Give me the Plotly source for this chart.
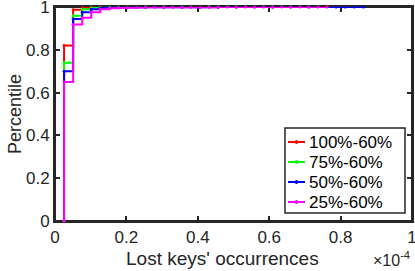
import plotly.graph_objects as go

# x values in units of 1e-4 (lost keys' occurrences)
red_x = [0.0254, 0.0254, 0.0508, 0.0762, 0.1016, 0.1270, 0.1524, 0.1778, 0.2032, 0.2540, 0.3048, 0.3810, 0.4572]
red_y = [0.0, 0.82, 0.987, 0.997, 0.999, 0.9993, 0.9995, 0.9996, 0.9997, 0.9998, 0.9999, 0.99995, 1.0]

green_x = [0.0254, 0.0254, 0.0508, 0.0762, 0.1016, 0.1270, 0.1524, 0.1778, 0.2032, 0.2540, 0.3048, 0.3556, 0.4318, 0.5080, 0.6096]
green_y = [0.0, 0.74, 0.959, 0.99, 0.996, 0.998, 0.9985, 0.999, 0.9993, 0.9995, 0.9997, 0.9998, 0.9999, 0.99995, 1.0]

blue_x = [0.0254, 0.0254, 0.0508, 0.0762, 0.1016, 0.1270, 0.1524, 0.1778, 0.2032, 0.2286, 0.2540, 0.3048, 0.3556, 0.4064, 0.4572, 0.5080, 0.5588, 0.6096, 0.6604, 0.7112, 0.7874, 0.8128, 0.8382, 0.8636]
blue_y = [0.0, 0.70, 0.944, 0.975, 0.99, 0.995, 0.997, 0.998, 0.9985, 0.9988, 0.999, 0.9992, 0.9993, 0.9994, 0.9995, 0.9996, 0.9997, 0.99975, 0.9998, 0.99985, 0.9999, 0.99993, 0.99996, 1.0]

magenta_x = [0.0254, 0.0254, 0.0508, 0.0762, 0.1016, 0.1270, 0.1524, 0.1778, 0.2032, 0.2286, 0.2540, 0.2794, 0.3048, 0.3302, 0.3556, 0.3810, 0.4064, 0.4318, 0.4572, 0.4826, 0.5080, 0.5334, 0.5588, 0.5842, 0.6096, 0.6350, 0.6604, 0.6858, 0.7112, 0.7366, 0.7620]
magenta_y = [0.0, 0.65, 0.918, 0.95, 0.975, 0.99, 0.994, 0.996, 0.997, 0.998, 0.9983, 0.9986, 0.9988, 0.999, 0.9991, 0.9992, 0.9993, 0.9994, 0.9995, 0.9996, 0.99965, 0.9997, 0.99975, 0.9998, 0.99985, 0.9999, 0.99993, 0.99995, 0.99997, 0.99999, 1.0]

names = ["100%-60%", "75%-60%", "50%-60%", "25%-60%"]
colors = ["#ff0000", "#00ff00", "#0000ff", "#ff00ff"]
series = [(red_x, red_y), (green_x, green_y), (blue_x, blue_y), (magenta_x, magenta_y)]

x_ticks = [0, 0.2, 0.4, 0.6, 0.8, 1]
x_tick_labels = ["0", "0.2", "0.4", "0.6", "0.8", "1"]
y_ticks = [0, 0.2, 0.4, 0.6, 0.8, 1]
y_tick_labels = ["0", "0.2", "0.4", "0.6", "0.8", "1"]

x_title = "Lost keys' occurrences"
y_title = "Percentile"

W, H = 415, 271
ML, MR, MT, MB = 55, 3, 7, 50
PW, PH = W - ML - MR, H - MT - MB


def px_x(p):
    return (p - ML) / PW


def px_y(p):
    return (H - MB - p) / PH


fig = go.Figure()
for (xs, ys), name, c in zip(series, names, colors):
    fig.add_trace(go.Scatter(
        x=xs, y=ys, name=name, mode="lines+markers",
        line=dict(color=c, width=2, shape="hv"),
        marker=dict(color=c, size=3),
        cliponaxis=False, showlegend=False,
    ))

font = "Liberation Sans, Arial, Helvetica, sans-serif"
axcol = "#262626"
axis_common = dict(
    showgrid=False, zeroline=False, showline=True, linecolor=axcol, linewidth=2,
    mirror="ticks", ticks="inside", ticklen=5, tickwidth=1.5, tickcolor=axcol,
    tickfont=dict(family=font, size=17, color=axcol), automargin=False,
    ticklabeloverflow="allow", layer="below traces",
)
fig.update_xaxes(range=[0, 1], tickvals=x_ticks, ticktext=x_tick_labels, **axis_common)
fig.update_yaxes(range=[0, 1], tickvals=y_ticks, ticktext=y_tick_labels,
                 title=dict(text=y_title, font=dict(family=font, size=18, color=axcol), standoff=0),
                 **axis_common)

# box around the plot area
fig.add_shape(type="rect", xref="paper", yref="paper", x0=0, y0=0, x1=1, y1=1,
              line=dict(color=axcol, width=2), layer="below")

fig.add_annotation(xref="paper", yref="paper", x=0.468, y=0, yshift=-37, xanchor="center", yanchor="middle",
                   text=x_title, showarrow=False,
                   font=dict(family=font, size=19, color=axcol))

fig.add_annotation(xref="paper", yref="paper", x=1.0, y=0, yshift=-38, xanchor="right", yanchor="middle",
                   text="×10<sup>-4</sup>", showarrow=False,
                   font=dict(family=font, size=16, color=axcol))

# legend box drawn to match the reference's compact layout
fig.add_shape(type="rect", xref="paper", yref="paper",
              x0=px_x(285), x1=px_x(405), y0=px_y(213), y1=px_y(128),
              line=dict(color=axcol, width=1.5), fillcolor="white", layer="above")
entry_y = [142, 162, 182, 202]
for name, c, ey in zip(names, colors, entry_y):
    fig.add_shape(type="line", xref="paper", yref="paper",
                  x0=px_x(288), x1=px_x(305), y0=px_y(ey), y1=px_y(ey),
                  line=dict(color=c, width=2), layer="above")
    fig.add_shape(type="circle", xref="paper", yref="paper",
                  x0=px_x(295), x1=px_x(298), y0=px_y(ey + 1.5), y1=px_y(ey - 1.5),
                  line=dict(color=c, width=1), fillcolor=c, layer="above")
    fig.add_annotation(xref="paper", yref="paper", x=px_x(307), y=px_y(ey),
                       xanchor="left", yanchor="middle", text=name, showarrow=False,
                       font=dict(family=font, size=17, color="black"))

fig.update_layout(
    width=W, height=H,
    margin=dict(l=ML, r=MR, t=MT, b=MB, autoexpand=False),
    paper_bgcolor="white", plot_bgcolor="white",
    showlegend=False,
)

fig.write_html("out.html", config={"displayModeBar": False},
               post_script="document.body.style.margin='0';document.body.style.padding='0';")
